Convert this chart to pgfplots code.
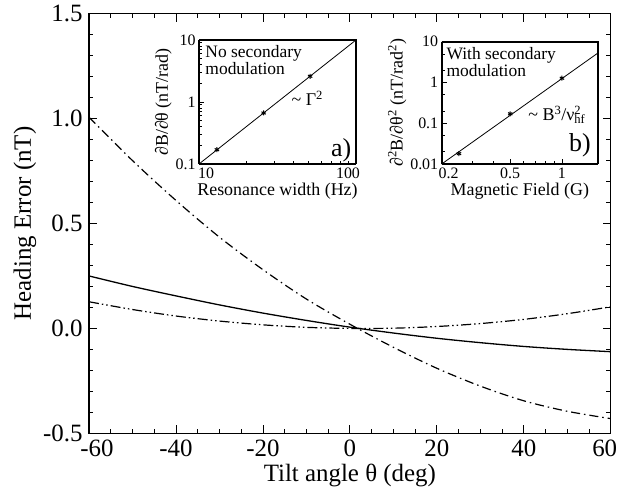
\documentclass[border=0pt]{standalone}
\usepackage{fontspec}
\setmainfont{Liberation Serif}
\usepackage{pgfplots}
\pgfplotsset{compat=1.18}

\pgfplotsset{
  /pgf/number format/assume math mode=true,
}

\begin{document}
\begin{tikzpicture}
\useasboundingbox (-89bp,-63.7bp) rectangle (529bp,433.3bp);

% main panel
\begin{axis}[at={(0,0)}, anchor=south west, scale only axis,
  width=521.7bp, height=419.6bp,
  xmin=-60, xmax=60, ymin=-0.5, ymax=1.5,
  xtick={-60,-40,...,60}, minor x tick num=3,
  xticklabels={\hspace*{16bp}-60,-40,-20,0,20,40,60\hspace*{12bp}},
  ytick={-0.5,0,0.5,1,1.5}, minor y tick num=4,
  tick align=inside, major tick length=8bp, minor tick length=4.5bp,
  axis line style={line width=1.2bp}, every tick/.style={black,line width=0.8bp},
  tick label style={font=\fontsize{25}{29}\selectfont},
  xticklabel style={yshift=-3bp},
  yticklabel style={xshift=-3bp,/pgf/number format/.cd,fixed,fixed zerofill,precision=1},
  label style={font=\fontsize{25}{29}\selectfont},
  xlabel={Tilt angle θ (deg)}, ylabel={Heading Error (nT)},
  xlabel style={yshift=-1bp}, ylabel style={yshift=0bp}]
\addplot[black, line width=1.3bp, smooth] coordinates {
 (-60,0.250)(-50,0.200)(-40,0.155)(-30,0.112)(-20,0.073)(-10,0.038)(0,0.006)
 (10,-0.022)(20,-0.047)(30,-0.068)(40,-0.086)(50,-0.100)(60,-0.111)};
\addplot[black, line width=1.2bp, smooth, dash pattern=on 9bp off 4bp on 1.5bp off 4bp] coordinates {
 (-60,1.007)(-50,0.800)(-40,0.610)(-30,0.435)(-20,0.280)(-10,0.140)(0,0.020)
 (10,-0.090)(20,-0.190)(30,-0.275)(40,-0.345)(50,-0.395)(60,-0.430)};
\addplot[black, line width=1.2bp, smooth, dash pattern=on 10bp off 3bp on 1.5bp off 3bp on 1.5bp off 3bp] coordinates {
 (-60,0.127)(-50,0.090)(-40,0.059)(-30,0.035)(-20,0.017)(-10,0.005)(0,0.000)
 (10,0.001)(20,0.009)(30,0.023)(40,0.043)(50,0.070)(60,0.103)};
\end{axis}

% inset a
\begin{axis}[at={(110bp,269.3bp)}, anchor=south west, scale only axis,
  width=157bp, height=124bp, xmode=log, ymode=log,
  xmin=10, xmax=100, ymin=0.1, ymax=10,
  xtick={10,100}, xticklabels={\hspace*{14bp}10,100\hspace*{16bp}},
  ytick={0.1,1,10}, yticklabels={0.1,1,10},
  axis x line*=bottom, axis y line*=left,
  tick align=inside, major tick length=5bp, minor tick length=3bp,
  axis line style={line width=2bp, -}, every tick/.style={black,line width=0.7bp},
  tick label style={font=\fontsize{16}{19}\selectfont},
  label style={font=\fontsize{18}{21}\selectfont},
  xlabel={Resonance width (Hz)}, ylabel={∂B/∂θ (nT/rad)},
  xlabel style={yshift=2bp}, ylabel style={yshift=-3bp},
  clip=false]
\draw[line width=2bp] (rel axis cs:0,1) -- (rel axis cs:1,1) -- (rel axis cs:1,0);
\addplot[black, line width=0.8bp] coordinates {(10,0.1)(100,10)};
\addplot[only marks, mark=asterisk, mark size=2.5bp, mark options={line width=1bp}] coordinates {
 (13.0,0.17)(25.8,0.665)(51,2.6)};
\node[anchor=north west, align=left, inner sep=0pt, font=\fontsize{17.5}{17}\selectfont]
  at (rel axis cs:0.04,0.955) {No secondary\\modulation};
\node[font=\fontsize{18}{20}\selectfont] at (rel axis cs:0.69,0.53) {\char"007E\ Γ\textsuperscript{2}};
\node[font=\fontsize{26}{30}\selectfont] at (rel axis cs:0.905,0.11) {a)};
\end{axis}

% inset b
\begin{axis}[at={(352.7bp,269.3bp)}, anchor=south west, scale only axis,
  width=156.3bp, height=122.3bp, xmode=log, ymode=log,
  xmin=0.2, xmax=1.62, ymin=0.01, ymax=10,
  xtick={0.2,0.5,1}, xticklabels={\hspace*{14bp}0.2,0.5,1},
  minor xtick={0.3,0.4,0.6,0.7,0.8,0.9},
  ytick={0.01,0.1,1,10}, yticklabels={0.01,0.1,1,10},
  minor ytick={0.02,0.05,0.2,0.5,2,5},
  axis x line*=bottom, axis y line*=left,
  tick align=inside, major tick length=5bp, minor tick length=3bp,
  axis line style={line width=2bp, -}, every tick/.style={black,line width=0.7bp},
  tick label style={font=\fontsize{16}{19}\selectfont},
  label style={font=\fontsize{18}{21}\selectfont},
  xlabel={Magnetic Field (G)}, ylabel={∂\textsuperscript{2}B/∂θ\textsuperscript{2} (nT/rad\textsuperscript{2})},
  xlabel style={yshift=2bp}, ylabel style={yshift=-3bp},
  clip=false]
\draw[line width=2bp] (rel axis cs:0,1) -- (rel axis cs:1,1) -- (rel axis cs:1,0);
\addplot[black, line width=0.8bp] coordinates {(0.2,0.01)(1.62,5.3)};
\addplot[only marks, mark=asterisk, mark size=2.5bp, mark options={line width=1bp}] coordinates {
 (0.252,0.018)(0.50,0.17)(1.0,1.27)};
\node[anchor=north west, align=left, inner sep=0pt, font=\fontsize{17.5}{17}\selectfont]
  at (rel axis cs:0.03,0.955) {With secondary\\modulation};
\node[font=\fontsize{18}{20}\selectfont] at (rel axis cs:0.76,0.40)
  {\char"007E\ B\textsuperscript{3}/ν\rlap{\textsuperscript{2}}\textsubscript{hf}\hspace*{0.4em}};
\node[font=\fontsize{26}{30}\selectfont] at (rel axis cs:0.885,0.15) {b)};
\end{axis}
\end{tikzpicture}
\end{document}
